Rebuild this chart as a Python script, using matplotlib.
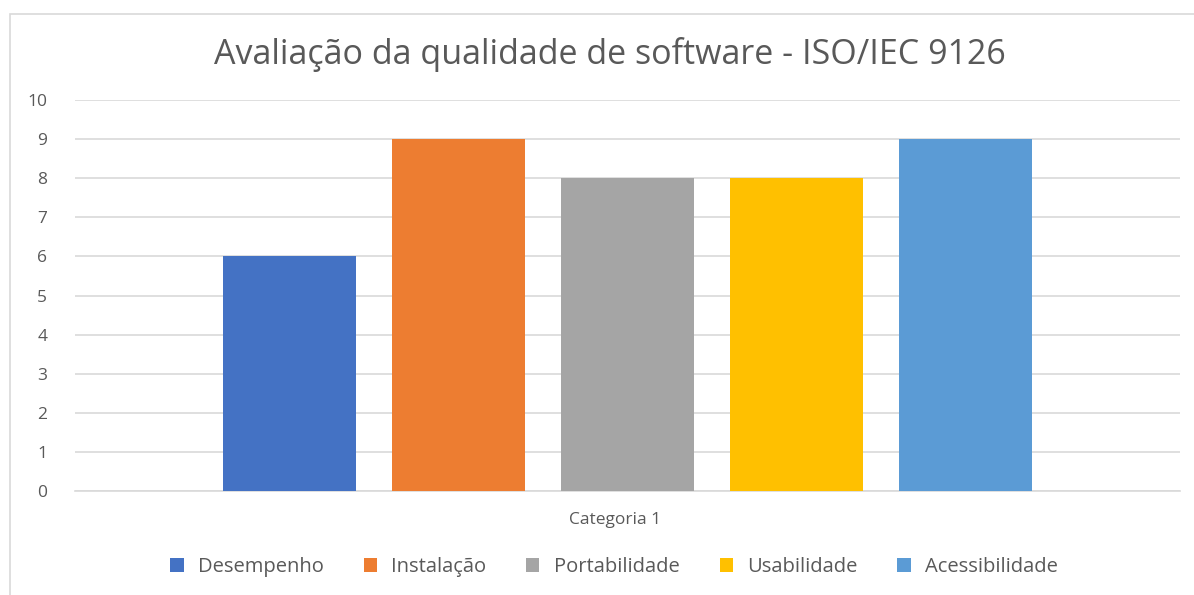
import matplotlib

matplotlib.use("Agg")

import matplotlib.pyplot as plt
from matplotlib.patches import Rectangle, Patch

plt.rcParams["font.family"] = ["Open Sans", "DejaVu Sans"]

TITLE = "Avaliação da qualidade de software - ISO/IEC 9126"
CATEGORY = "Categoria 1"
SERIES = ["Desempenho", "Instalação", "Portabilidade", "Usabilidade", "Acessibilidade"]
VALUES = [6, 9, 8, 8, 9]
COLORS = ["#4472C4", "#ED7D31", "#A5A5A5", "#FFC000", "#5B9BD5"]
Y_TICKS = list(range(0, 11))

TEXT_COLOR = "#595959"
GRID_COLOR = "#D9D9D9"


def main():
    fig = plt.figure(figsize=(11.94, 5.95), dpi=100)
    W, H = 1194, 595

    # chart border like an Excel chart area
    fig.patches.append(Rectangle((10 / W, -0.1), 1.2, (H - 14) / H + 0.1,
                                 transform=fig.transFigure, fill=False,
                                 edgecolor="#D9D9D9", linewidth=1.2))

    ax = fig.add_axes([75 / W, 1 - 491 / H, (1180 - 75) / W, (491 - 100) / H])

    step = 0.153
    width = 0.1204
    n = len(SERIES)
    for i, (name, val, col) in enumerate(zip(SERIES, VALUES, COLORS)):
        x = (i - (n - 1) / 2) * step
        ax.bar(x, val, width=width, color=col, label=name, zorder=3)

    ax.set_xlim(-0.5, 0.5)
    ax.set_ylim(0, 10)
    ax.set_yticks(Y_TICKS)
    ax.set_yticklabels([str(t) for t in Y_TICKS], color=TEXT_COLOR, fontsize=12.5)
    ax.tick_params(axis="y", length=0, pad=20)
    ax.set_xticks([])
    ax.yaxis.grid(True, color=GRID_COLOR, linewidth=1.2, zorder=0)
    for side in ["top", "right", "left"]:
        ax.spines[side].set_visible(False)
    ax.spines["bottom"].set_color(GRID_COLOR)
    ax.spines["bottom"].set_linewidth(1.2)

    fig.text(610 / W, 1 - 55 / H, TITLE, ha="center", va="center",
             fontsize=24.5, color=TEXT_COLOR)
    fig.text(615 / W, 1 - 520 / H, CATEGORY, ha="center", va="center",
             fontsize=12.5, color=TEXT_COLOR)

    handles = [Patch(facecolor=c, label=s) for s, c in zip(SERIES, COLORS)]
    fig.legend(handles=handles, loc="center", bbox_to_anchor=(614 / W, 1 - 567 / H),
               ncol=n, frameon=False, fontsize=14.5, labelcolor=TEXT_COLOR,
               handlelength=0.65, handleheight=0.65, handletextpad=0.7,
               columnspacing=2.0)

    fig.savefig("out.png", dpi=100)
    plt.close(fig)


if __name__ == "__main__":
    main()
